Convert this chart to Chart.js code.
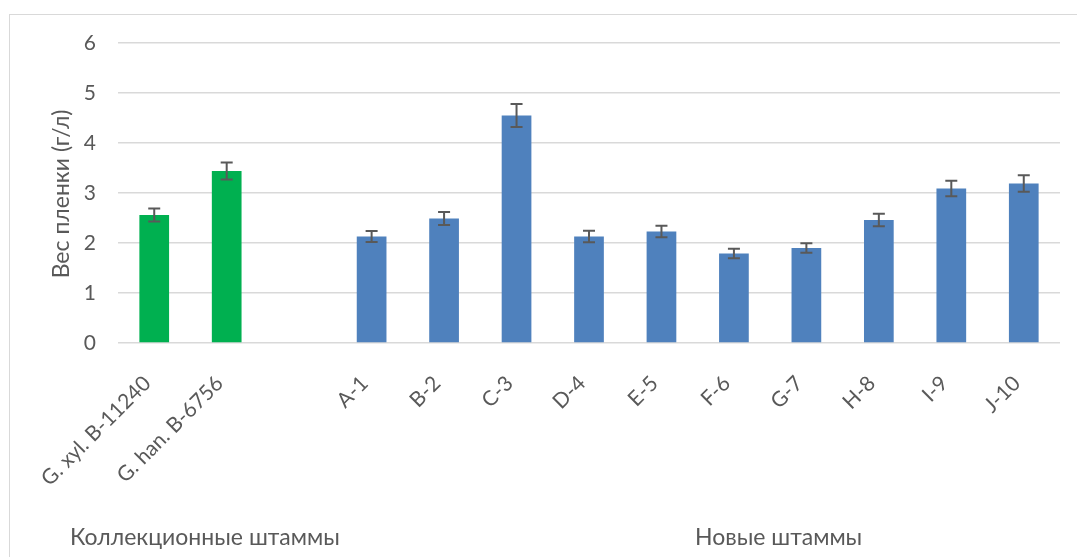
<!DOCTYPE html>
<html>
<head>
<meta charset="utf-8">
<script src="https://cdn.jsdelivr.net/npm/chart.js@4/dist/chart.umd.min.js"></script>
<style>
  html, body { margin: 0; padding: 0; background: #ffffff; }
  #wrap { position: relative; width: 1077px; height: 557px; }
  #frame { position: absolute; left: 9px; top: 14px; width: 1100px; height: 600px; border: 1px solid #d9d9d9; box-sizing: border-box; }
</style>
</head>
<body>
<div id="wrap">
  <div id="frame"></div>
  <canvas id="c" width="1077" height="557"></canvas>
</div>
<script>
const categories = ["G. xyl. B-11240", "G. han. B-6756", "", "A-1", "B-2", "C-3", "D-4", "E-5", "F-6", "G-7", "H-8", "I-9", "J-10"];
const collectionValues = [2.56, 3.44, null, null, null, null, null, null, null, null, null, null, null];
const newValues = [null, null, null, 2.13, 2.49, 4.55, 2.13, 2.23, 1.79, 1.90, 2.46, 3.09, 3.19];
const errors = [0.13, 0.17, null, 0.11, 0.13, 0.23, 0.115, 0.115, 0.095, 0.095, 0.125, 0.155, 0.165];
const yTicks = [0, 1, 2, 3, 4, 5, 6];
const groupLabels = ["Коллекционные штаммы", "Новые штаммы"];
const yTitle = "Вес пленки (г/л)";

const FONT = "Lato, 'Open Sans', sans-serif";
const TXT = "#595959";

const errorBars = {
  id: 'errorBars',
  afterDatasetsDraw(chart) {
    const ctx = chart.ctx;
    const y = chart.scales.y;
    ctx.save();
    ctx.strokeStyle = '#595959';
    ctx.lineWidth = 2;
    chart.data.datasets.forEach((ds, di) => {
      const meta = chart.getDatasetMeta(di);
      ds.data.forEach((v, i) => {
        if (v === null || errors[i] === null) return;
        const el = meta.data[i];
        const x = el.x;
        const yt = y.getPixelForValue(v + errors[i]);
        const yb = y.getPixelForValue(v - errors[i]);
        ctx.beginPath();
        ctx.moveTo(x, yt); ctx.lineTo(x, yb);
        ctx.moveTo(x - 6, yt); ctx.lineTo(x + 6, yt);
        ctx.moveTo(x - 6, yb); ctx.lineTo(x + 6, yb);
        ctx.stroke();
      });
    });
    ctx.restore();
  }
};

const extraText = {
  id: 'extraText',
  afterDraw(chart) {
    const ctx = chart.ctx;
    const area = chart.chartArea;
    ctx.save();
    ctx.fillStyle = TXT;
    ctx.font = "23px " + FONT;
    ctx.textBaseline = 'alphabetic';
    ctx.textAlign = 'left';
    ctx.fillText(groupLabels[0], 70, 545);
    ctx.fillText(groupLabels[1], 695, 545);
    ctx.translate(62, 194);
    ctx.rotate(-Math.PI / 2);
    ctx.textAlign = 'center';
    ctx.textBaseline = 'middle';
    ctx.font = "23px " + FONT;
    ctx.fillText(yTitle, 0, 0);
    ctx.restore();
  }
};

new Chart(document.getElementById('c'), {
  type: 'bar',
  data: {
    labels: categories,
    datasets: [
      { data: collectionValues, backgroundColor: '#00B050', barPercentage: 0.41, categoryPercentage: 1.0, grouped: false },
      { data: newValues, backgroundColor: '#4F81BD', barPercentage: 0.41, categoryPercentage: 1.0, grouped: false }
    ]
  },
  options: {
    responsive: false,
    animation: false,
    devicePixelRatio: 1,
    layout: { padding: { top: 43, right: 17, left: 0, bottom: 0 } },
    plugins: { legend: { display: false }, tooltip: { enabled: false } },
    scales: {
      x: {
        grid: { display: false, drawTicks: false },
        border: { display: false },
        ticks: {
          color: TXT, font: { family: FONT, size: 21 },
          minRotation: 45, maxRotation: 45, autoSkip: false, padding: 28, labelOffset: -7
        },
        afterFit(s) { s.height = 214; s.paddingLeft = 0; s.paddingRight = 0; }
      },
      y: {
        min: 0, max: 6,
        afterBuildTicks(s) { s.ticks = yTicks.map(v => ({ value: v })); },
        grid: { color: '#d9d9d9', lineWidth: 1.5, drawTicks: false },
        border: { display: false },
        ticks: { color: TXT, font: { family: FONT, size: 21 }, padding: 22 },
        afterFit(s) { s.width = 118; s.paddingTop = 0; s.paddingBottom = 0; }
      }
    }
  },
  plugins: [errorBars, extraText]
});
</script>
</body>
</html>
